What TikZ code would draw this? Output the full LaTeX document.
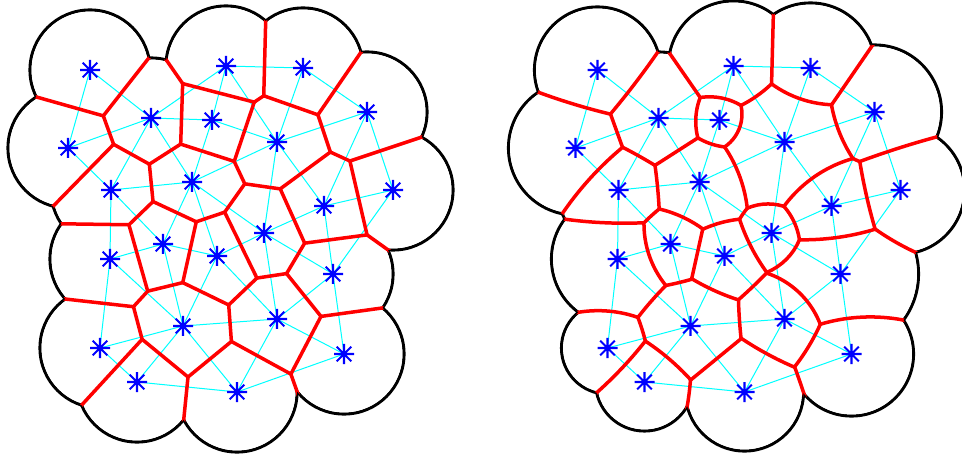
\documentclass[tikz,border=0pt]{standalone}
\usetikzlibrary{calc}
\definecolor{dcyan}{rgb}{0,1,1}
\definecolor{dred}{rgb}{1,0,0}
\definecolor{dblue}{rgb}{0,0,1}
\tikzset{
  cyanedge/.style={dcyan, line width=1pt},
  rededge/.style={dred, line width=3.5pt},
  blackarc/.style={black, line width=3.1pt},
  ast/.pic={\draw[dblue, line width=2.1pt] (-10pt,0)--(10pt,0) (0,-10pt)--(0,10pt) (-7.3pt,-7.3pt)--(7.3pt,7.3pt) (-7.3pt,7.3pt)--(7.3pt,-7.3pt);}
}
% sites x/y/radius (pixels)
\def\LS{90/70/60,226/66/60,303/68/60,151/118/60,212/120/60,367/112/60,68/148/60,277/142/60,111/190/60,192/182/60,393/190/60,324/206/60,163/244/60,264/233/60,110/259/60,217/256/60,333/274/60,183/326/60,277/319/60,100/348/60,344/354/60,137/382/60,237/392/60}
\def\RS{90/70/63,226/66/65,303/68/65,151/118/66,212/120/42,367/112/67,68/148/67,277/142/92,111/190/61,192/182/66,393/190/64,324/206/68,163/244/50,264/233/42,110/259/66,217/256/48,333/274/78,183/326/57,277/319/52,100/348/46,344/354/62,137/382/49,237/392/59}
\def\EDGES{1/4,1/7,2/3,2/4,2/5,2/8,3/6,3/8,4/5,4/7,4/9,4/10,5/8,5/10,6/8,6/11,6/12,7/9,8/10,8/12,8/14,9/10,9/13,9/15,10/13,10/14,10/16,11/12,11/17,12/14,12/17,13/15,13/16,13/18,14/16,14/17,14/19,15/18,15/20,16/18,16/19,17/19,17/21,18/19,18/20,18/22,18/23,19/21,19/23,20/22,21/23,22/23}
% weighted bisector of site i (#1,#2,#3) and site k (#4,#5,#6)
\def\VBbis#1#2#3#4#5#6{%
  \pgfmathsetmacro\VBdx{#4-#1}%
  \pgfmathsetmacro\VBdy{#5-#2}%
  \pgfmathsetmacro\VBd{veclen(\VBdx,\VBdy)}%
  \def\VBmode{9}%
  \ifdim\VBd pt>0.5pt\relax
    \pgfmathsetmacro\VBsum{#3+#6}%
    \ifdim\VBd pt<\VBsum pt\relax
      \pgfmathsetmacro\VBux{\VBdx/\VBd}%
      \pgfmathsetmacro\VBuy{\VBdy/\VBd}%
      \pgfmathsetmacro\VBdr{#6-#3}%
      \def\VBmode{0}%
      \ifdim\VBdr pt>2pt\relax\def\VBmode{1}\fi
      \ifdim\VBdr pt<-2pt\relax\def\VBmode{2}\fi
      \ifnum\VBmode>0\relax
        \pgfmathsetmacro\VBrho{abs(#3/\VBdr)*#6/\VBsum*\VBd}%
        \ifdim\VBrho pt>2500pt\relax\def\VBmode{0}\fi
      \fi
      \ifnum\VBmode=0\relax
        \pgfmathsetmacro\VBqx{#1+#3/\VBsum*\VBdx}%
        \pgfmathsetmacro\VBqy{#2+#3/\VBsum*\VBdy}%
      \else
        \pgfmathsetmacro\VBg{(#3/\VBdr)*(#3/\VBsum)}%
        \pgfmathsetmacro\VBcx{#1-\VBg*\VBdx}%
        \pgfmathsetmacro\VBcy{#2-\VBg*\VBdy}%
      \fi
    \fi
  \fi}
\def\VBclip{%
  \ifcase\VBmode\relax
    \clip ({\VBqx+0.5*\VBux-400*\VBuy},{\VBqy+0.5*\VBuy+400*\VBux}) -- ({\VBqx+0.5*\VBux+400*\VBuy},{\VBqy+0.5*\VBuy-400*\VBux}) -- ({\VBqx-600*\VBux+400*\VBuy},{\VBqy-600*\VBuy-400*\VBux}) -- ({\VBqx-600*\VBux-400*\VBuy},{\VBqy-600*\VBuy+400*\VBux}) -- cycle;
  \or
    \clip (\VBcx,\VBcy) circle[radius=\VBrho pt+0.5pt];
  \or
    \pgfseteorule
    \clip (-2000,-2000) -- (3000,-2000) -- (3000,3000) -- (-2000,3000) -- cycle (\VBcx,\VBcy) circle[radius=\VBrho pt-0.5pt];
  \else
  \fi}
\def\VBdraw{%
  \ifcase\VBmode\relax
    \draw[rededge] ({\VBqx-300*\VBuy},{\VBqy+300*\VBux}) -- ({\VBqx+300*\VBuy},{\VBqy-300*\VBux});
  \or
    \draw[rededge] (\VBcx,\VBcy) circle[radius=\VBrho pt];
  \or
    \draw[rededge] (\VBcx,\VBcy) circle[radius=\VBrho pt];
  \else
  \fi}
\def\VBcells#1{%
  \foreach \pa/\pb/\pr in #1 {%
    \begin{scope}
      \clip (\pa,\pb) circle[radius=\pr pt];
      \foreach \qa/\qb/\qr in #1 {\VBbis{\pa}{\pb}{\pr}{\qa}{\qb}{\qr}\VBclip}
      \foreach \qa/\qb/\qr in #1 {\VBbis{\pa}{\pb}{\pr}{\qa}{\qb}{\qr}\VBdraw}
    \end{scope}
  }}
\def\VBdiagram#1#2{%
  \foreach \x/\y/\r in #1 {\draw[blackarc] (\x,\y) circle[radius=\r pt];}
  \foreach \x/\y/\r in #1 {\fill[white] (\x,\y) circle[radius=\r pt-1.55pt];}
  \foreach \x/\y/\r [count=\n] in #1 {\coordinate (#2\n) at (\x,\y);}
  \foreach \a/\b in \EDGES {\draw[cyanedge] (#2\a) -- (#2\b);}
  \VBcells{#1}
  \foreach \n in {1,...,23} {\pic at (#2\n) {ast};}
}
\begin{document}
\begin{tikzpicture}[x=1pt,y=-1pt]
\useasboundingbox (0,0) rectangle (962,457);
\VBdiagram{\LS}{L}
\begin{scope}[xshift=507.5pt]
\VBdiagram{\RS}{R}
\end{scope}
\end{tikzpicture}
\end{document}
